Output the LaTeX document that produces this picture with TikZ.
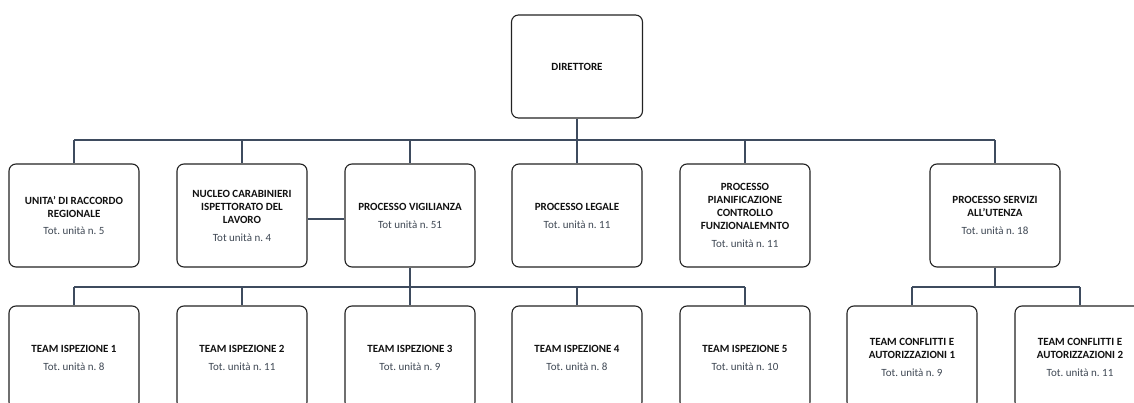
\documentclass[tikz,border=0pt]{standalone}
\usepackage{fontspec}
\setmainfont{Carlito}
\definecolor{linec}{HTML}{3E4B5E}
\definecolor{boxc}{HTML}{222222}
\definecolor{totc}{HTML}{3F4854}
\definecolor{titc}{HTML}{111111}
\newcommand{\fixsp}{\spaceskip=\fontdimen2\font\relax\xspaceskip=\fontdimen2\font\relax}
\newcommand{\orgtit}[1]{{\bfseries\fixsp\color{titc}#1\par}}
\newcommand{\orgtot}[1]{{\fixsp\color{totc}#1\par}}
\begin{document}
\begin{tikzpicture}[x=1pt,y=-1pt,
  orgbox/.style={draw=boxc,line width=1.1pt,fill=white,rounded corners=7pt,
    minimum width=130pt,minimum height=103pt,inner sep=0pt,align=center,
    text width=124pt,font=\fontsize{11}{13}\selectfont},
  conn/.style={draw=linec,line width=1.5pt},
  bus/.style={draw=linec,line width=2pt}]
\useasboundingbox (0,0) rectangle (1134,403);
\clip (0,0) rectangle (1134,403);
% nodes
\node[orgbox,minimum width=131pt] (dir) at (577,66.5) {\orgtit{DIRETTORE}};
\node[orgbox] (urr) at (74,215.5) {\orgtit{UNITA' DI RACCORDO\\REGIONALE}\vspace{4pt}\orgtot{Tot. unità n. 5}};
\node[orgbox] (ncl) at (242,215.5) {\orgtit{NUCLEO CARABINIERI\\ISPETTORATO DEL\\LAVORO}\vspace{5pt}\orgtot{Tot unità n. 4}};
\node[orgbox] (vig) at (410,215.5) {\orgtit{PROCESSO VIGILIANZA}\vspace{5pt}\orgtot{Tot unità n. 51}};
\node[orgbox] (leg) at (577,215.5) {\orgtit{PROCESSO LEGALE}\vspace{5pt}\orgtot{Tot. unità n. 11}};
\node[orgbox] (pia) at (745,215.5) {\orgtit{PROCESSO\\PIANIFICAZIONE\\CONTROLLO\\FUNZIONALEMNTO}\vspace{5pt}\orgtot{Tot. unità n. 11}};
\node[orgbox] (ser) at (995,215.5) {\orgtit{PROCESSO SERVIZI\\ALL'UTENZA}\vspace{5pt}\orgtot{Tot. unità n. 18}};
\node[orgbox] (t1) at (74,357.5) {\orgtit{TEAM ISPEZIONE 1}\vspace{5pt}\orgtot{Tot. unità n. 8}};
\node[orgbox] (t2) at (242,357.5) {\orgtit{TEAM ISPEZIONE 2}\vspace{5pt}\orgtot{Tot. unità n. 11}};
\node[orgbox] (t3) at (410,357.5) {\orgtit{TEAM ISPEZIONE 3}\vspace{5pt}\orgtot{Tot. unità n. 9}};
\node[orgbox] (t4) at (577,357.5) {\orgtit{TEAM ISPEZIONE 4}\vspace{5pt}\orgtot{Tot. unità n. 8}};
\node[orgbox] (t5) at (745,357.5) {\orgtit{TEAM ISPEZIONE 5}\vspace{5pt}\orgtot{Tot. unità n. 10}};
\node[orgbox] (c1) at (912,357.5) {\orgtit{TEAM CONFLITTI E\\AUTORIZZAZIONI 1}\vspace{5pt}\orgtot{Tot. unità n. 9}};
\node[orgbox] (c2) at (1080,357.5) {\orgtit{TEAM CONFLITTI E\\AUTORIZZAZIONI 2}\vspace{5pt}\orgtot{Tot. unità n. 11}};
% bus coordinates
\coordinate (b1) at (577,140);
\coordinate (b2) at (410,287);
\coordinate (b3) at (995,287);
% level 1 connectors
\draw[conn] (dir.south) -- (b1);
\draw[bus] (urr.north |- b1) -- (ser.north |- b1);
\foreach \n in {urr,ncl,vig,leg,pia,ser}{\draw[conn] (\n.north |- b1) -- (\n.north);}
\draw[conn] ([yshift=-3.5pt]ncl.east) -- ([yshift=-3.5pt]vig.west);
% level 2 connectors
\draw[conn] (vig.south) -- (b2);
\draw[bus] (t1.north |- b2) -- (t5.north |- b2);
\foreach \n in {t1,t2,t3,t4,t5}{\draw[conn] (\n.north |- b2) -- (\n.north);}
\draw[conn] (ser.south) -- (b3);
\draw[bus] (c1.north |- b3) -- (c2.north |- b3);
\foreach \n in {c1,c2}{\draw[conn] (\n.north |- b3) -- (\n.north);}
\end{tikzpicture}
\end{document}
